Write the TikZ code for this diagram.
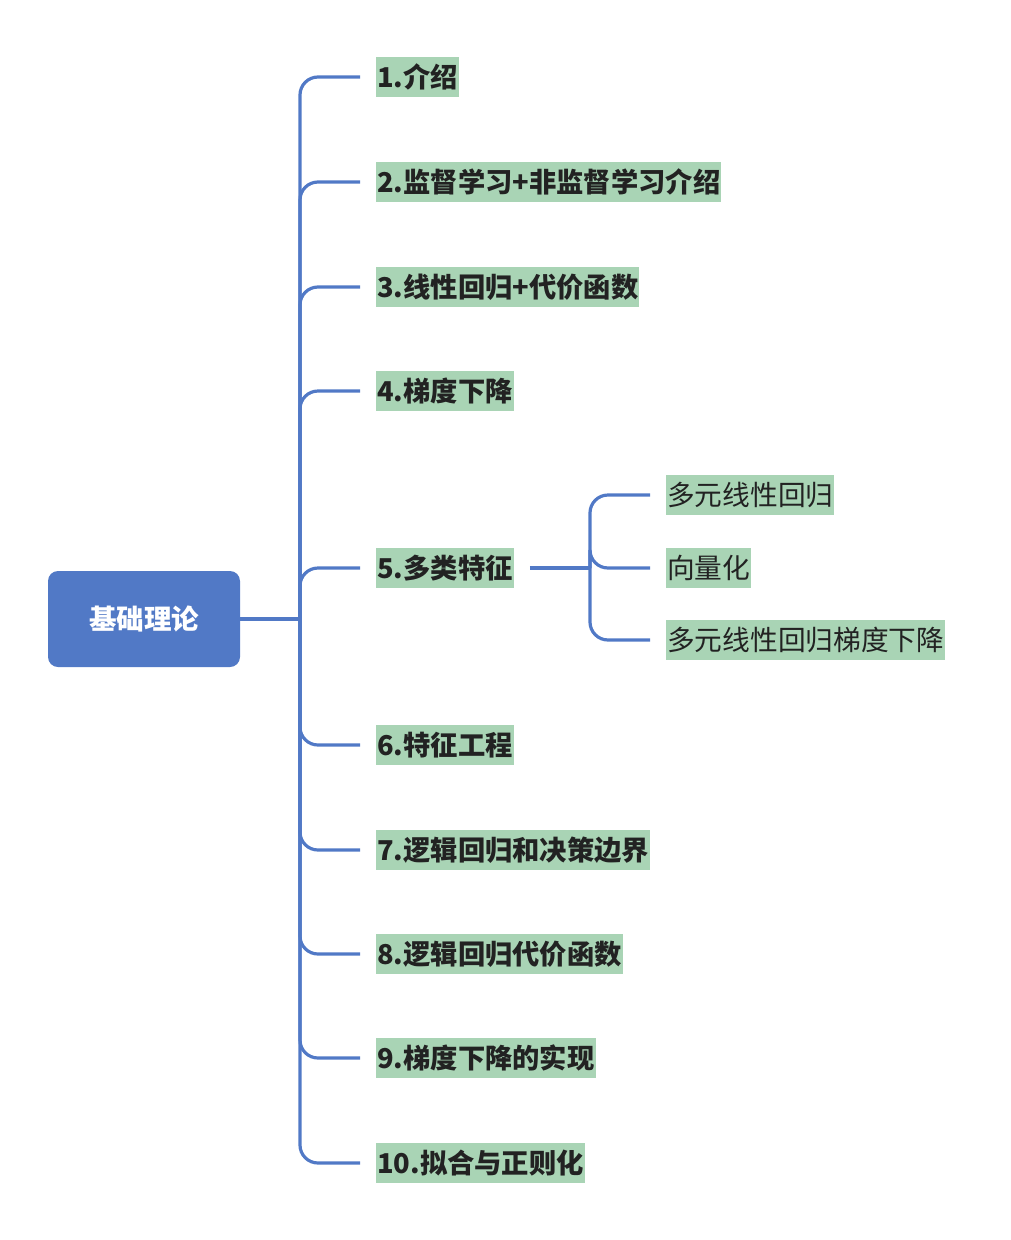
\documentclass[tikz,border=0pt]{standalone}
\usepackage{fontspec}
\setmainfont{Noto Sans CJK SC}
\usepackage{tikz}
\usetikzlibrary{calc, shapes}

\definecolor{xblue}{RGB}{81,121,198}
\definecolor{xgreen}{RGB}{169,212,181}
\definecolor{xtext}{RGB}{34,34,34}

\tikzset{
	topic/.style={rectangle, fill=xgreen, text=xtext, anchor=west, minimum height=40pt, inner xsep=1pt, inner ysep=0pt, font=\fontsize{27.3}{30}\selectfont\bfseries},
	subtopic/.style={topic, font=\fontsize{27.7}{30}\selectfont},
	link/.style={-, line width=3.2pt, color=xblue, rounded corners=18pt}
}

\begin{document}
\begin{tikzpicture}[x=1pt, y=1pt]
	
	\useasboundingbox (0,0) rectangle (1010,-1240);
	
	\node[rectangle, rounded corners=10pt, fill=xblue, text=white, minimum width=192pt, minimum height=96pt, font=\fontsize{27.5}{30}\selectfont\bfseries] (root) at (144,-619) {基础理论};
	
	\coordinate (fork) at (300,-619);
	\coordinate (subfork) at (590,-568);
	
	\node[topic] (b1) at (376,-77) {1.介绍};
	\node[topic] (b2) at (376,-182) {2.监督学习+非监督学习介绍};
	\node[topic] (b3) at (376,-287) {3.线性回归+代价函数};
	\node[topic] (b4) at (376,-391) {4.梯度下降};
	\node[topic] (b5) at (376,-568) {5.多类特征};
	\node[topic] (b6) at (376,-745) {6.特征工程};
	\node[topic] (b7) at (376,-850) {7.逻辑回归和决策边界};
	\node[topic] (b8) at (376,-954) {8.逻辑回归代价函数};
	\node[topic] (b9) at (376,-1058) {9.梯度下降的实现};
	\node[topic] (b10) at (376,-1163) {10.拟合与正则化};
	
	\node[subtopic] (s1) at (666,-495) {多元线性回归};
	\node[subtopic] (s2) at (666,-568) {向量化};
	\node[subtopic] (s3) at (666,-640) {多元线性回归梯度下降};
	
	\draw[link] (root.east) -- (fork);
	\foreach \i in {1,...,10}
		\draw[link, shorten >=16pt] (fork) |- (b\i.west);
	
	\draw[link, shorten <=16pt] (b5.east) -- (subfork);
	\foreach \i in {1,2,3}
		\draw[link, shorten >=16pt] (subfork) |- (s\i.west);
	
\end{tikzpicture}
\end{document}
